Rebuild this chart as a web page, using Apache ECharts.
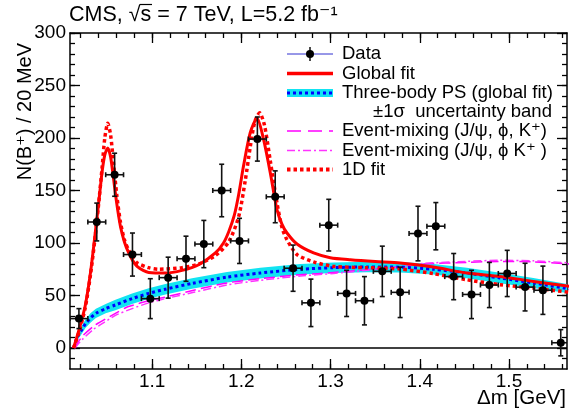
<!DOCTYPE html>
<html>
<head>
<meta charset="utf-8">
<script src="https://cdn.jsdelivr.net/npm/echarts@6/dist/echarts.min.js"></script>
<style>
html, body { margin: 0; padding: 0; background: #fff; }
#chart { width: 570px; height: 410px; }
</style>
</head>
<body>
<div id="chart"></div>
<script>
// ---- Measured spectrum: 20 MeV bins in delta-m ----
const binWidth = 0.02;
const binCenters = [1.018, 1.038, 1.058, 1.078, 1.098, 1.118, 1.138, 1.158, 1.178, 1.198,
                    1.218, 1.238, 1.258, 1.278, 1.298, 1.318, 1.338, 1.358, 1.378, 1.398,
                    1.418, 1.438, 1.458, 1.478, 1.498, 1.518, 1.538, 1.558];
const counts = [28, 120, 165, 89, 47, 67, 85, 99, 150, 102,
                199, 144, 76, 43, 117, 52, 45, 73, 53, 109,
                116, 68, 51, 60, 71, 58, 55, 5];
const countErrors = [9.5, 18, 20.5, 20.5, 19, 19.5, 21.5, 22.5, 25, 21.5,
                     21, 24.7, 22, 22.6, 24.6, 22, 23, 24, 24, 26,
                     22.5, 22, 23, 21.5, 22, 22.7, 23, 12.5];

// ---- Fit curves, sampled as [delta-m, N] ----
const globalFit = [[1.012,0],[1.018,17],[1.025,40],[1.031,72],[1.0365,111],[1.041,145],[1.044,168],
  [1.047,184],[1.0503,190.5],[1.0535,182],[1.057,160],[1.0605,137],[1.0645,116],[1.069,101],
  [1.0738,90.5],[1.0785,83],[1.0832,77.7],[1.09,74],[1.0962,72],[1.1149,71.4],[1.1336,73.9],
  [1.1522,79.3],[1.1709,90.5],[1.18,100],[1.186,111],[1.192,126],[1.197,146],[1.2026,174],
  [1.21,205],[1.2176,219],[1.225,198.4],[1.2325,166.7],[1.24,131.7],[1.2455,118],[1.2512,109.5],
  [1.2624,99],[1.281,90.5],[1.2997,86],[1.3221,84],[1.3501,82.3],[1.378,81],[1.4153,77.1],
  [1.4527,71.4],[1.49,68.2],[1.5273,63.4],[1.5685,58.7]];

const fit1D = [[1.012,0],[1.018,15],[1.025,38],[1.031,70],[1.0365,108],[1.041,145],[1.044,172],
  [1.047,200],[1.0503,214],[1.0535,203],[1.057,174],[1.0605,145],[1.0645,120],[1.069,103],
  [1.0738,93],[1.0785,86],[1.0832,81],[1.0962,76.5],[1.107,75],[1.1336,76.5],[1.1522,80],
  [1.1709,88],[1.1858,101],[1.197,125],[1.2045,160],[1.2101,192],[1.215,215],[1.2205,224],
  [1.226,212],[1.2325,178],[1.24,138],[1.2455,115],[1.2512,103],[1.2624,89],[1.281,82],
  [1.3034,77.7],[1.34,76.5],[1.378,75.2],[1.4153,70.8],[1.4527,65],[1.49,60.3],[1.5273,57.1],
  [1.5685,53]];

const threeBodyPS = [[1.012,0],[1.016,10],[1.0216,18],[1.0253,23],[1.0309,28.5],[1.037,33],
  [1.048,37.5],[1.0589,41],[1.0776,47],[1.0962,52],[1.1149,56],[1.1448,61.5],[1.184,67.5],
  [1.2213,71.4],[1.2661,75],[1.3034,76.5],[1.3408,77.2],[1.378,77],[1.4153,75],[1.4527,71.4],
  [1.49,66.7],[1.5273,61.9],[1.5685,56.2]];
const threeBodyPSUpper = [[1.012,0],[1.016,13],[1.0216,22],[1.0253,27],[1.0309,33],[1.037,37.5],
  [1.048,42],[1.0589,46],[1.0776,52],[1.0962,57],[1.1149,61],[1.1448,66.5],[1.184,72.5],
  [1.2213,76.5],[1.2661,80],[1.3034,81.5],[1.3408,82.2],[1.378,82],[1.4153,80],[1.4527,76.4],
  [1.49,71.7],[1.5273,66.6],[1.5685,60.5]];
const threeBodyPSLower = [[1.012,0],[1.016,7],[1.0216,14],[1.0253,19],[1.0309,24],[1.037,28.5],
  [1.048,33],[1.0589,36],[1.0776,42],[1.0962,47],[1.1149,51],[1.1448,56.5],[1.184,62.5],
  [1.2213,66.3],[1.2661,70],[1.3034,71.5],[1.3408,72.2],[1.378,72],[1.4153,70],[1.4527,66.4],
  [1.49,61.7],[1.5273,57.2],[1.5685,52]];

const mixingA = [[1.013,0],[1.0216,11],[1.0346,21],[1.0402,24],[1.0589,33],[1.072,39],[1.0776,40.5],
  [1.0962,45],[1.1149,48.5],[1.1466,55],[1.184,62],[1.2213,66],[1.2661,69.8],[1.2885,71],
  [1.3408,74.5],[1.378,77.5],[1.4042,80],[1.4527,81.5],[1.49,82.5],[1.5273,82],[1.5685,80]];
const mixingB = [[1.0135,0],[1.0216,8],[1.0346,18],[1.0402,21],[1.0589,31],[1.0776,37.5],
  [1.0962,43],[1.1149,47],[1.1466,53],[1.184,60],[1.2213,64.5],[1.2661,68.5],[1.3034,71],
  [1.3408,74],[1.378,77],[1.4042,80.5],[1.4527,82.5],[1.49,83.5],[1.5273,83],[1.5685,81]];

// ---- Axis ticks ----
const xRange = [1.008, 1.565];
const yRange = [-20, 300];
const xMajorTicks = [1.1, 1.2, 1.3, 1.4, 1.5];
const yMajorTicks = [0, 50, 100, 150, 200, 250, 300];
const xMinorTicks = [];
for (let k = 51; k <= 78; k++) xMinorTicks.push(+(k * 0.02).toFixed(2));
const yMinorTicks = [];
for (let v = -10; v <= 300; v += 10) yMinorTicks.push(v);

const FONT = "'Liberation Sans', Helvetica, Arial, 'DejaVu Sans', sans-serif";
const INK = '#000';

function xAxisDef(position, ticks, len, withLabels, withLine) {
  return {
    type: 'value', position: position, min: xRange[0], max: xRange[1],
    axisLine: { show: withLine, onZero: false, lineStyle: { color: INK, width: 1.5 } },
    axisTick: { show: true, inside: true, length: len, customValues: ticks,
                lineStyle: { color: INK, width: 1.3 } },
    axisLabel: withLabels ? { show: true, customValues: ticks, fontSize: 19, fontFamily: FONT,
                              color: INK, margin: 3 } : { show: false },
    splitLine: { show: false }
  };
}
function yAxisDef(position, ticks, len, withLabels, withLine) {
  return {
    type: 'value', position: position, min: yRange[0], max: yRange[1],
    axisLine: { show: withLine, onZero: false, lineStyle: { color: INK, width: 1.5 } },
    axisTick: { show: true, inside: true, length: len, customValues: ticks,
                lineStyle: { color: INK, width: 1.3 } },
    axisLabel: withLabels ? { show: true, customValues: ticks, fontSize: 19, fontFamily: FONT,
                              color: INK, margin: 4 } : { show: false },
    splitLine: { show: false }
  };
}

function curve(name, pts, color, width, dash, z) {
  return {
    name: name, type: 'line', data: pts, xAxisIndex: 0, yAxisIndex: 0,
    showSymbol: false, symbol: 'none', smooth: 0.25, z: z,
    lineStyle: { color: color, width: width, type: dash || 'solid', cap: 'butt', join: 'round' },
    silent: true, clip: true
  };
}

function renderBand(params, api) {
  const pts = [];
  threeBodyPSUpper.forEach(p => pts.push(api.coord(p)));
  for (let i = threeBodyPSLower.length - 1; i >= 0; i--) pts.push(api.coord(threeBodyPSLower[i]));
  return {
    type: 'polygon', shape: { points: pts },
    style: { fill: '#12e4f2', stroke: null },
    clipPath: { type: 'rect', shape: params.coordSys }
  };
}

function renderPoint(params, api) {
  const x = api.value(0), y = api.value(1), e = api.value(2);
  const c = api.coord([x, y]);
  const top = api.coord([x, y + e])[1];
  const bot = api.coord([x, y - e])[1];
  const lx = api.coord([x - binWidth / 2, y])[0];
  const rx = api.coord([x + binWidth / 2, y])[0];
  const cs = params.coordSys;
  const cap = 2.5;
  const st = { stroke: '#111', lineWidth: 1.6 };
  return {
    type: 'group',
    clipPath: { type: 'rect', shape: { x: cs.x, y: cs.y, width: cs.width, height: cs.height } },
    children: [
      { type: 'line', shape: { x1: c[0], y1: top, x2: c[0], y2: bot }, style: st },
      { type: 'line', shape: { x1: lx, y1: c[1], x2: rx, y2: c[1] }, style: st },
      { type: 'line', shape: { x1: c[0] - cap, y1: top, x2: c[0] + cap, y2: top }, style: st },
      { type: 'line', shape: { x1: c[0] - cap, y1: bot, x2: c[0] + cap, y2: bot }, style: st },
      { type: 'line', shape: { x1: lx, y1: c[1] - cap, x2: lx, y2: c[1] + cap }, style: st },
      { type: 'line', shape: { x1: rx, y1: c[1] - cap, x2: rx, y2: c[1] + cap }, style: st },
      { type: 'circle', shape: { cx: c[0], cy: c[1], r: 4 }, style: { fill: '#000' } }
    ]
  };
}

const pointData = binCenters.map((x, i) => [x, counts[i], countErrors[i]]);

// ---- Legend (drawn as graphics) ----
const lx1 = 287, lx2 = 333, ltx = 342;
const rows = [54, 73.5, 93, 111.5, 131, 150.5, 169.5];
const legendText = (y, txt, x) => ({
  type: 'text', x: x || ltx, y: y,
  style: { text: txt, fontSize: 18.5, fontFamily: FONT, fill: INK, align: 'left', verticalAlign: 'middle' }
});
const legendLine = (y, color, width, dash) => ({
  type: 'line', shape: { x1: lx1, y1: y, x2: lx2, y2: y },
  style: { stroke: color, lineWidth: width, lineDash: dash || null }
});

const graphics = [
  // title, with the overline of the square root
  { type: 'text', x: 69, y: 15, style: { text: 'CMS, \u221As = 7 TeV, L=5.2 fb\u207B\u00B9', fontSize: 21.5,
    fontFamily: FONT, fill: INK, align: 'left', verticalAlign: 'middle' } },
  { type: 'line', shape: { x1: 140, y1: 4.5, x2: 152, y2: 4.5 }, style: { stroke: INK, lineWidth: 1.2 } },
  // axis titles
  { type: 'text', x: 25, y: 43, rotation: Math.PI / 2, style: { text: 'N(B\u207A) / 20 MeV', fontSize: 20,
    fontFamily: FONT, fill: INK, align: 'right', verticalAlign: 'middle' } },
  { type: 'text', x: 566, y: 398, style: { text: '\u0394m [GeV]', fontSize: 20.5,
    fontFamily: FONT, fill: INK, align: 'right', verticalAlign: 'middle' } },
  // legend: data
  legendLine(rows[0], '#3030d0', 1),
  { type: 'line', shape: { x1: 310, y1: rows[0] - 7, x2: 310, y2: rows[0] + 7 }, style: { stroke: '#111', lineWidth: 1.5 } },
  { type: 'circle', shape: { cx: 310, cy: rows[0], r: 4 }, style: { fill: '#000' } },
  legendText(rows[0], 'Data'),
  // global fit
  legendLine(rows[1], '#ff0000', 3.5),
  legendText(rows[1], 'Global fit'),
  // three-body PS with band
  { type: 'rect', shape: { x: lx1, y: rows[2] - 4, width: lx2 - lx1, height: 8 }, style: { fill: '#12e4f2' } },
  legendLine(rows[2], '#0000ff', 3, [3, 3]),
  legendText(rows[2], 'Three-body PS (global fit)'),
  legendText(rows[3], '\u00B11\u03C3  uncertainty band', 373),
  // event mixing
  legendLine(rows[4], '#ff00ff', 1.5, [14, 7]),
  legendText(rows[4], 'Event-mixing (J/\u03C8, \u03D5, K\u207A)'),
  legendLine(rows[5], '#ff33ff', 1.5, [8, 3, 2, 3]),
  legendText(rows[5], 'Event-mixing (J/\u03C8, \u03D5 K\u207A )'),
  // 1D fit
  legendLine(rows[6], '#ff0000', 4, [3.5, 3]),
  legendText(rows[6], '1D fit')
];

const chart = echarts.init(document.getElementById('chart'), null, { renderer: 'canvas' });
chart.setOption({
  animation: false,
  backgroundColor: '#fff',
  grid: { left: 70, right: 3, top: 33, bottom: 41, containLabel: false },
  xAxis: [
    xAxisDef('bottom', xMajorTicks, 10, true, true),
    xAxisDef('bottom', xMinorTicks, 5, false, false),
    xAxisDef('top', xMajorTicks, 10, false, true),
    xAxisDef('top', xMinorTicks, 5, false, false)
  ],
  yAxis: [
    yAxisDef('left', yMajorTicks, 10, true, true),
    yAxisDef('left', yMinorTicks, 5, false, false),
    yAxisDef('right', yMajorTicks, 10, false, true),
    yAxisDef('right', yMinorTicks, 5, false, false)
  ],
  series: [
    { name: 'PS band', type: 'custom', renderItem: renderBand, data: [[1.2, 0]],
      xAxisIndex: 0, yAxisIndex: 0, z: 1, silent: true },
    { name: 'zero', type: 'line', data: [[xRange[0], 0], [xRange[1], 0]], symbol: 'none',
      lineStyle: { color: INK, width: 1.6 }, z: 2, silent: true },
    curve('Event-mixing A', mixingA, '#ff00ff', 1.5, [11, 5], 3),
    curve('Event-mixing B', mixingB, '#ff33ff', 1.5, [8, 3, 2, 3], 3),
    curve('Three-body PS', threeBodyPS, '#0000ff', 3, [3, 3], 4),
    curve('Global fit', globalFit, '#ff0000', 3, 'solid', 5),
    curve('1D fit', fit1D, '#ff0000', 3.5, [3.5, 3], 6),
    { name: 'Data', type: 'custom', renderItem: renderPoint, data: pointData,
      encode: { x: 0, y: 1 }, xAxisIndex: 0, yAxisIndex: 0, z: 10, silent: true }
  ],
  graphic: graphics
});
</script>
</body>
</html>
